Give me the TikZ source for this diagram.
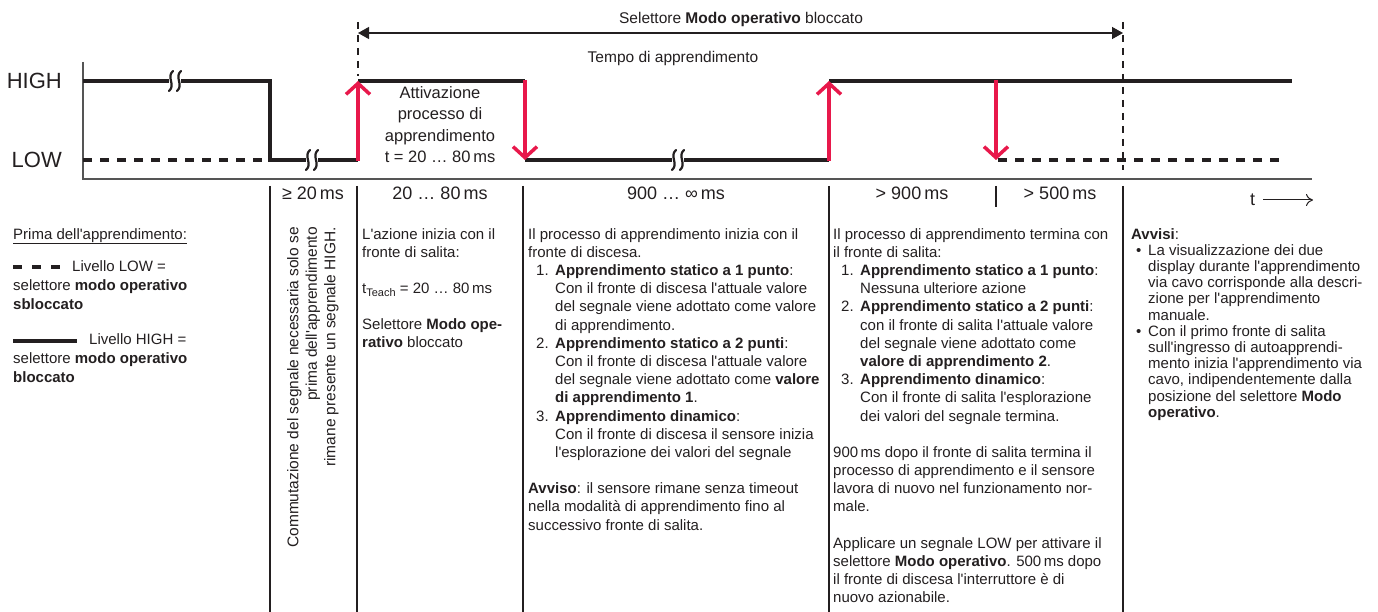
\documentclass[tikz,border=0pt]{standalone}
\usepackage{fontspec}
\setmainfont{Liberation Sans}[Ligatures=TeXOff]
\usetikzlibrary{arrows.meta}

\definecolor{inkblack}{HTML}{231F20}
\definecolor{edgered}{HTML}{E8184B}
\definecolor{axisgray}{HTML}{555555}

\newcommand\itm[1]{\hspace*{8pt}\makebox[19pt][l]{#1}}
\newcommand\cnt{\hspace*{27pt}}
\newcommand\blt{\hspace*{5pt}\makebox[12pt][l]{\textbullet}}
\newcommand\bcnt{\hspace*{17pt}}

\tikzset{
  brk/.pic={
    \fill[white] (-6,-5) rectangle (6,5);
    \foreach \dx in {-4,4}
      \draw[inkblack, line width=2.2pt, line cap=round] (\dx+2,-10) .. controls (\dx-5,-4) and (\dx+5,4) .. (\dx-2,10);
  }
}

\begin{document}
\begin{tikzpicture}[x=1pt, y=-1pt, line cap=butt,
  level/.style={inkblack, line width=4pt},
  lowdash/.style={level, dash pattern=on 9pt off 8pt},
  edge/.style={edgered, line width=3.5pt, -{Straight Barb[length=11pt,width=24pt,line width=3.5pt]}},
  sep/.style={inkblack, line width=1.3pt},
  guide/.style={inkblack, line width=1.3pt, dash pattern=on 7pt off 6pt},
  body/.style={inkblack, font=\fontsize{15}{18.2}\selectfont, align=left, anchor=north west, inner sep=0pt},
  dur/.style={inkblack, font=\fontsize{18}{21}\selectfont, inner sep=0pt, anchor=base},
  levelname/.style={inkblack, font=\fontsize{22}{26}\selectfont, inner sep=0pt, anchor=base east},
]
\useasboundingbox (0,0) rectangle (1378,612);

% level names and axes
\node[levelname] (high) at (62,89) {HIGH};
\node[levelname] (low) at (62,168) {LOW};
\draw[axisgray, line width=2pt] (83,62) -- (83,179) -- (1312,179);

% locked time span
\draw[guide] (358,22) -- (358,76);
\draw[guide] (1123,22) -- (1123,170);
\coordinate (lockstart) at (358,33);
\coordinate (lockend) at (1123,33);
\draw[inkblack, line width=1.3pt, {Triangle[length=11pt,width=12pt]}-{Triangle[length=11pt,width=12pt]}] (lockstart) -- (lockend);
\node[inkblack, font=\fontsize{15.5}{18}\selectfont, anchor=base] (locktext) at (741,24) {Selettore \textbf{Modo operativo} bloccato};
\node[inkblack, font=\fontsize{15.5}{18}\selectfont, anchor=base] (teachtime) at (673,63) {Tempo di apprendimento};

% signal
\draw[lowdash] (83,160) -- (266,160);
\draw[level] (83,81) -- (270,81) -- (270,160) -- (358,160);
\draw[level] (358,81) -- (525,81);
\draw[level] (525,160) -- (829,160);
\draw[level] (829,81) -- (1292,81);
\draw[lowdash] (998,160) -- (1283,160);
\pic at (175,81) {brk};
\pic at (312,160) {brk};
\pic at (678,160) {brk};
\foreach \x in {358,829} \draw[edge] (\x,161) -- (\x,81);
\foreach \x in {525,996} \draw[edge] (\x,80) -- (\x,160);
\node[inkblack, font=\fontsize{16.5}{21.5}\selectfont, align=center, anchor=north, inner sep=0pt] (trigger) at (440,86)
  {Attivazione\\processo di\\apprendimento\\t = 20 … 80\,ms};

% time axis label
\node[inkblack, font=\fontsize{18}{21}\selectfont, inner sep=0pt, anchor=base west] (tname) at (1250,206) {t};
\coordinate (tend) at (1313,200);
\draw[inkblack, line width=1pt, -{To[length=7pt,width=12pt]}] (1263,200) -- (tend);

% column separators
\foreach \x in {270,357,523,829,1123} \draw[sep] (\x,186) -- (\x,612);
\draw[sep] (996,186) -- (996,207);

% durations
\node[dur] (d1) at (313,200) {≥ 20\,ms};
\node[dur] (d2) at (440,200) {20 … 80\,ms};
\node[dur] (d3) at (676,200) {900 … ∞\,ms};
\node[dur] (d4) at (912,200) {> 900\,ms};
\node[dur] (d5) at (1060,200) {> 500\,ms};

% legend
\node[body, font=\fontsize{15}{19.3}\selectfont] (legend) at (13,228)
  {\underline{Prima dell'apprendimento:}\\[13pt]
   \hspace*{59pt}Livello LOW =\\
   selettore \textbf{modo operativo}\\
   \textbf{sbloccato}\\[15pt]
   \hspace*{76pt}Livello HIGH =\\
   selettore \textbf{modo operativo}\\
   \textbf{bloccato}};
\draw[level, dash pattern=on 9pt off 10pt] (13,267) -- (60,267);
\draw[level] (13,341) -- (77,341);

% column texts
\node[body, font=\fontsize{15.5}{18.5}\selectfont, align=right, rotate=90, anchor=north east] (switchnote) at (287,227)
  {Commutazione del segnale necessaria solo se\\
   prima dell'apprendimento\\
   rimane presente un segnale HIGH.};

\node[body] (risenote) at (362,228)
  {L'azione inizia con il\\
   fronte di salita:\\[18pt]
   t\raisebox{-3pt}{\fontsize{11}{11}\selectfont Teach} = 20 … 80\,ms\\[18pt]
   Selettore \textbf{Modo ope-}\\
   \textbf{rativo} bloccato};

\node[body] (fallnote) at (528,228)
  {Il processo di apprendimento inizia con il\\
   fronte di discesa.\\
   \itm{1.}\textbf{Apprendimento statico a 1 punto}:\\
   \cnt Con il fronte di discesa l'attuale valore\\
   \cnt del segnale viene adottato come valore\\
   \cnt di apprendimento.\\
   \itm{2.}\textbf{Apprendimento statico a 2 punti}:\\
   \cnt Con il fronte di discesa l'attuale valore\\
   \cnt del segnale viene adottato come \textbf{valore}\\
   \cnt \textbf{di apprendimento 1}.\\
   \itm{3.}\textbf{Apprendimento dinamico}:\\
   \cnt Con il fronte di discesa il sensore inizia\\
   \cnt l'esplorazione dei valori del segnale\\[18pt]
   \textbf{Avviso}: il sensore rimane senza timeout\\
   nella modalità di apprendimento fino al\\
   successivo fronte di salita.};

\node[body] (endnote) at (833,228)
  {Il processo di apprendimento termina con\\
   il fronte di salita:\\
   \itm{1.}\textbf{Apprendimento statico a 1 punto}:\\
   \cnt Nessuna ulteriore azione\\
   \itm{2.}\textbf{Apprendimento statico a 2 punti}:\\
   \cnt con il fronte di salita l'attuale valore\\
   \cnt del segnale viene adottato come\\
   \cnt \textbf{valore di apprendimento 2}.\\
   \itm{3.}\textbf{Apprendimento dinamico}:\\
   \cnt Con il fronte di salita l'esplorazione\\
   \cnt dei valori del segnale termina.\\[18pt]
   900\,ms dopo il fronte di salita termina il\\
   processo di apprendimento e il sensore\\
   lavora di nuovo nel funzionamento nor-\\
   male.\\[18pt]
   Applicare un segnale LOW per attivare il\\
   selettore \textbf{Modo operativo}. 500\,ms dopo\\
   il fronte di discesa l'interruttore è di\\
   nuovo azionabile.};

\node[body, font=\fontsize{15}{16.2}\selectfont] (hints) at (1131,228)
  {\textbf{Avvisi}:\\
   \blt La visualizzazione dei due\\
   \bcnt display durante l'apprendimento\\
   \bcnt via cavo corrisponde alla descri-\\
   \bcnt zione per l'apprendimento\\
   \bcnt manuale.\\
   \blt Con il primo fronte di salita\\
   \bcnt sull'ingresso di autoapprendi-\\
   \bcnt mento inizia l'apprendimento via\\
   \bcnt cavo, indipendentemente dalla\\
   \bcnt posizione del selettore \textbf{Modo}\\
   \bcnt \textbf{operativo}.};
\end{tikzpicture}
\end{document}
